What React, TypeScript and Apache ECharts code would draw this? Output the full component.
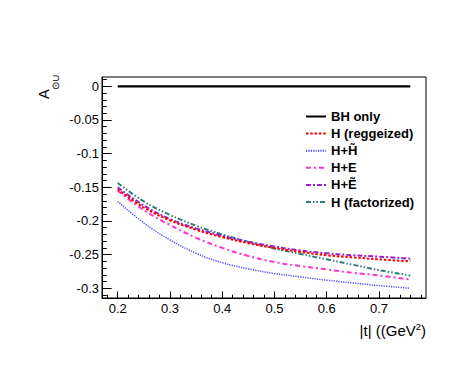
import React, { useEffect, useRef } from "react";
import * as echarts from "echarts";

const tValues = [0.2, 0.25, 0.3, 0.35, 0.4, 0.45, 0.5, 0.55, 0.6, 0.65, 0.7, 0.76];
const bhOnly = [0, 0, 0, 0, 0, 0, 0, 0, 0, 0, 0, 0];
const hReggeized = [-0.153, -0.18, -0.199, -0.213, -0.224, -0.233, -0.24, -0.246, -0.251, -0.254, -0.257, -0.26];
const hHtilde = [-0.171, -0.203, -0.228, -0.248, -0.262, -0.271, -0.278, -0.283, -0.288, -0.292, -0.296, -0.3];
const hE = [-0.155, -0.184, -0.206, -0.225, -0.24, -0.252, -0.261, -0.267, -0.272, -0.277, -0.281, -0.287];
const hEtilde = [-0.15, -0.177, -0.197, -0.211, -0.222, -0.231, -0.238, -0.244, -0.248, -0.251, -0.253, -0.256];
const hFactorized = [-0.1435, -0.171, -0.191, -0.207, -0.22, -0.231, -0.241, -0.249, -0.257, -0.265, -0.273, -0.281];

const seriesNames = ["BH only", "H (reggeized)", "H+H\u0303", "H+E", "H+\u1EBC", "H (factorized)"];
const xTicks = [0.2, 0.3, 0.4, 0.5, 0.6, 0.7];
const yTicks = [0, -0.05, -0.1, -0.15, -0.2, -0.25, -0.3];

const X_MIN = 0.17;
const X_MAX = 0.79;
const Y_MIN = -0.3144;
const Y_MAX = 0.0138;

function minorValues(min: number, max: number, step: number, majors: number[]) {
  const out: number[] = [];
  const start = Math.ceil(min / step - 1e-9);
  const end = Math.floor(max / step + 1e-9);
  for (let i = start; i <= end; i++) {
    const v = +(i * step).toFixed(6);
    if (!majors.some((m) => Math.abs(m - v) < 1e-9)) out.push(v);
  }
  return out;
}

const FONT = "Liberation Sans, Arial, Helvetica, sans-serif";

export default function App() {
  const ref = useRef<HTMLDivElement>(null);
  useEffect(() => {
    if (!ref.current) return;
    const chart = echarts.init(ref.current, undefined, { renderer: "svg" });
    const pairs = (ys: number[]) => tValues.map((t, i) => [t, ys[i]]);
    const styles = [
      { color: "#000000", width: 2.2, type: "solid" as any },
      { color: "#ff0000", width: 2, type: [2.5, 1.8] },
      { color: "#4a4aff", width: 1.5, type: [1.2, 1.2] },
      { color: "#ff33cc", width: 2, type: [5, 3, 2, 3] },
      { color: "#9a1fd0", width: 2, type: [5, 2, 2, 2] },
      { color: "#2e7d7a", width: 2, type: [5, 2, 1.5, 2, 1.5, 2] },
    ];
    const datasets = [bhOnly, hReggeized, hHtilde, hE, hEtilde, hFactorized];
    const tickLabelStyle = { fontSize: 13, fontFamily: FONT, color: "#000" };
    chart.setOption({
      animation: false,
      grid: {
        left: 102,
        top: 77,
        right: 37,
        bottom: 84,
        show: true,
        borderColor: "#000",
        borderWidth: 1,
        backgroundColor: "transparent",
        outerBoundsMode: "none",
      },
      legend: {
        orient: "vertical",
        left: 300,
        top: 105,
        itemWidth: 20,
        itemHeight: 10,
        itemGap: 4.1,
        data: seriesNames,
        itemStyle: { opacity: 0 },
        textStyle: { fontSize: 13, fontWeight: "bold", fontFamily: FONT, color: "#000", lineHeight: 13 },
      },
      xAxis: [
        {
          type: "value",
          min: X_MIN,
          max: X_MAX,
          position: "bottom",
          splitLine: { show: false },
          axisLine: { show: true, onZero: false, lineStyle: { color: "#000", width: 1 } },
          axisTick: { show: true, inside: true, length: 6.5, customValues: xTicks, lineStyle: { color: "#000" } },
          axisLabel: { show: true, customValues: xTicks, margin: 4, formatter: (v: number) => String(v), ...tickLabelStyle },
        },
        {
          type: "value",
          min: X_MIN,
          max: X_MAX,
          position: "bottom",
          offset: 0,
          splitLine: { show: false },
          axisLine: { show: false, onZero: false },
          axisTick: { show: true, inside: true, length: 3.3, customValues: minorValues(X_MIN, X_MAX, 0.02, xTicks), lineStyle: { color: "#000" } },
          axisLabel: { show: false },
        },
      ],
      yAxis: [
        {
          type: "value",
          min: Y_MIN,
          max: Y_MAX,
          position: "left",
          splitLine: { show: false },
          axisLine: { show: true, onZero: false, lineStyle: { color: "#000", width: 1 } },
          axisTick: { show: true, inside: true, length: 9.7, customValues: yTicks, lineStyle: { color: "#000" } },
          axisLabel: { show: true, customValues: yTicks, margin: 3, formatter: (v: number) => String(v), ...tickLabelStyle },
        },
        {
          type: "value",
          min: Y_MIN,
          max: Y_MAX,
          position: "left",
          offset: 0,
          splitLine: { show: false },
          axisLine: { show: false, onZero: false },
          axisTick: { show: true, inside: true, length: 4.8, customValues: minorValues(Y_MIN, Y_MAX, 0.01, yTicks), lineStyle: { color: "#000" } },
          axisLabel: { show: false },
        },
      ],
      series: datasets.map((d, i) => ({
        name: seriesNames[i],
        type: "line",
        xAxisIndex: 0,
        yAxisIndex: 0,
        data: pairs(d),
        symbol: "none",
        smooth: 0.4,
        lineStyle: styles[i],
        itemStyle: { color: styles[i].color },
        z: 10 - i,
      })),
      graphic: [
        {
          type: "group",
          x: 51,
          y: 99,
          rotation: Math.PI / 2,
          children: [
            {
              type: "text",
              x: 0,
              y: 0,
              style: { text: "A", fontSize: 14.5, fontFamily: FONT, fill: "#000", align: "left", verticalAlign: "bottom" },
            },
            {
              type: "text",
              x: 9.5,
              y: -0.5,
              style: { text: "\u2299U", fontSize: 9.5, fontFamily: FONT, fill: "#000", align: "left", verticalAlign: "top" },
            },
          ],
        },
        {
          type: "text",
          x: 426,
          y: 330,
          style: {
            text: "{a||t| ((GeV}{s|2}{a|)}",
            align: "right",
            verticalAlign: "middle",
            fill: "#000",
            rich: {
              a: { fontSize: 15, fontFamily: FONT, lineHeight: 18, fill: "#000" },
              s: { fontSize: 9.5, fontFamily: FONT, lineHeight: 9, verticalAlign: "top", fill: "#000" },
            },
          },
        },
      ],
    });
    return () => chart.dispose();
  }, []);
  return <div ref={ref} style={{ position: "absolute", left: 0, top: 0, width: 463, height: 382 }} />;
}
